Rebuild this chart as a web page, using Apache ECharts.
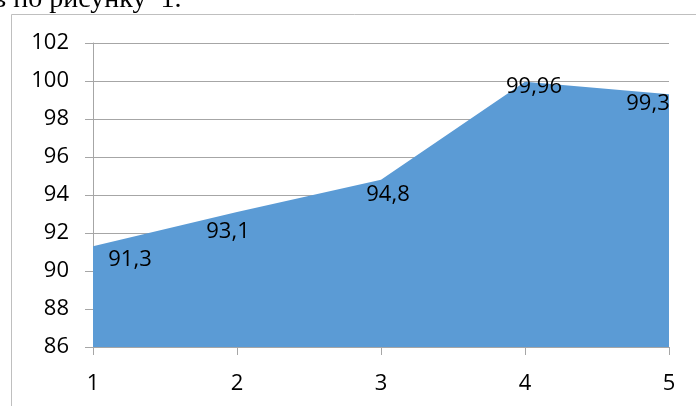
<!DOCTYPE html>
<html>
<head>
<meta charset="utf-8">
<script src="https://cdn.jsdelivr.net/npm/echarts@6/dist/echarts.min.js"></script>
<style>
html,body{margin:0;padding:0;background:#fff;}
#chart{width:696px;height:406px;}
</style>
</head>
<body>
<div id="chart"></div>
<script>
const categories = ['1', '2', '3', '4', '5'];
const values = [91.3, 93.1, 94.8, 99.96, 99.3];
const yTicks = [86, 88, 90, 92, 94, 96, 98, 100, 102];
const captionText = 'в по рисунку  1.';

const labelOffsets = [[37, 13], [-9, 20], [7, 15], [9, 5], [-21, 9]];
const fontFamily = '"Open Sans", "Noto Sans", sans-serif';

const chart = echarts.init(document.getElementById('chart'));
chart.setOption({
  animation: false,
  backgroundColor: '#ffffff',
  grid: { left: 93, right: 27, top: 43, bottom: 59 },
  graphic: [
    {
      type: 'rect', z: -10, silent: true,
      shape: { x: 11.5, y: 14.5, width: 800, height: 600 },
      style: { fill: 'none', stroke: '#bfbfbf', lineWidth: 1 }
    },
    {
      type: 'text', left: -7, top: -14, silent: true,
      style: { text: captionText, fill: '#000', font: '28px "Liberation Serif", serif' }
    }
  ],
  xAxis: {
    type: 'category',
    data: categories,
    boundaryGap: false,
    axisLine: { lineStyle: { color: '#a6a6a6', width: 1 } },
    axisTick: { show: true, length: 8, lineStyle: { color: '#a6a6a6' } },
    axisLabel: { color: '#000', fontSize: 22, fontFamily: fontFamily, margin: 26 },
    splitLine: { show: false }
  },
  yAxis: {
    type: 'value',
    min: yTicks[0],
    max: yTicks[yTicks.length - 1],
    interval: yTicks[1] - yTicks[0],
    axisLine: { show: true, lineStyle: { color: '#a6a6a6', width: 1 } },
    axisTick: { show: true, length: 8, lineStyle: { color: '#a6a6a6' } },
    axisLabel: { color: '#000', fontSize: 22, fontFamily: fontFamily, margin: 24 },
    splitLine: { show: true, lineStyle: { color: '#a6a6a6', width: 1 } }
  },
  series: [{
    type: 'line',
    data: values,
    symbol: 'circle',
    symbolSize: 1,
    showSymbol: true,
    itemStyle: { color: 'rgba(0,0,0,0)', borderWidth: 0 },
    lineStyle: { width: 0 },
    areaStyle: { color: '#5b9bd5', opacity: 1, origin: 'start' },
    label: {
      show: true,
      position: 'inside',
      color: '#000',
      fontSize: 22,
      fontFamily: fontFamily,
      formatter: p => String(p.value).replace('.', ',')
    },
    labelLayout: p => ({
      dx: labelOffsets[p.dataIndex][0],
      dy: labelOffsets[p.dataIndex][1],
      hideOverlap: false
    }),
    z: 1
  }]
});
</script>
</body>
</html>
